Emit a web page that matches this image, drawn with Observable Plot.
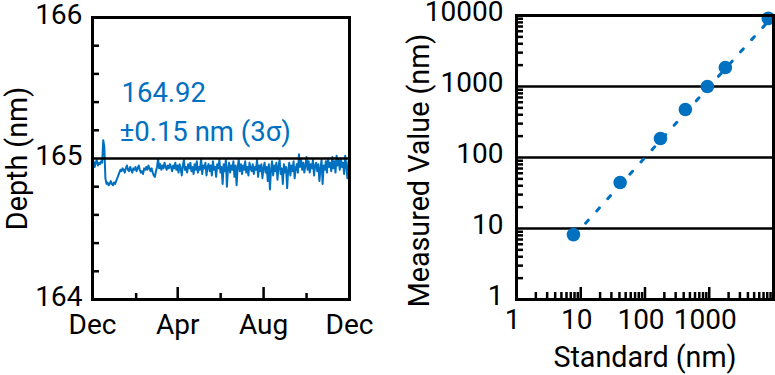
<!DOCTYPE html>
<html><head><meta charset="utf-8">
<script src="https://cdn.jsdelivr.net/npm/d3@7"></script>
<script src="https://cdn.jsdelivr.net/npm/@observablehq/plot@0.6"></script>
<style>
html,body{margin:0;padding:0;background:#fff;}
#wrap{display:flex;width:775px;height:375px;overflow:hidden;}
</style></head><body><div id="wrap"></div>
<script>
// ---- Left panel: depth over one year ----
const depthStart = "2020-12-01";
const depthEnd = "2021-12-01";
const depthValues = [
  164.96, 164.98, 164.94, 164.97, 164.99, 164.95, 164.97, 164.96, 164.98, 164.97,
  165.13, 165.08, 164.86, 164.82, 164.83, 164.81, 164.82, 164.84, 164.82, 164.81,
  164.83, 164.82, 164.84, 164.86, 164.88, 164.90, 164.92, 164.91, 164.93, 164.92,
  164.90, 164.93, 164.95, 164.92, 164.91, 164.94, 164.92, 164.90, 164.93, 164.92,
  164.94, 164.91, 164.93, 164.95, 164.92, 164.90, 164.91, 164.89, 164.93, 164.92,
  164.94, 164.92, 164.95, 164.93, 164.91, 164.93, 164.90, 164.88, 164.87, 164.91,
  164.94, 165.00, 164.93, 164.96, 164.92, 164.95, 164.93, 164.97, 164.94, 164.92,
  164.95, 164.93, 164.96, 164.94, 164.91, 164.95, 164.93, 164.97, 164.92, 164.95,
  164.90, 164.96, 164.93, 164.88, 164.95, 164.99, 164.92, 164.94, 164.90, 164.96,
  164.93, 164.97, 164.91, 164.94, 164.89, 164.96, 164.92, 164.98, 164.90, 164.94,
  164.92, 165.00, 164.89, 164.95, 164.93, 164.97, 164.88, 164.94, 164.96, 164.91,
  164.95, 164.88, 164.98, 164.92, 164.94, 164.87, 164.96, 164.93, 164.99, 164.90,
  164.94, 164.82, 164.96, 164.91, 164.99, 164.80, 164.93, 164.97, 164.90, 164.95,
  164.92, 164.98, 164.87, 164.95, 164.81, 164.94, 164.99, 164.91, 164.96, 164.89,
  164.95, 164.92, 164.98, 164.90, 164.94, 164.88, 164.97, 164.93, 164.91, 164.96,
  164.89, 164.94, 164.92, 164.99, 164.87, 164.95, 164.91, 164.96, 164.86, 164.93,
  164.97, 164.90, 164.94, 164.84, 164.96, 164.78, 164.92, 164.98, 164.88, 164.95,
  164.91, 164.97, 164.85, 164.94, 164.99, 164.89, 164.93, 164.82, 164.96, 164.90,
  164.94, 164.79, 164.92, 164.97, 164.88, 164.95, 164.91, 164.98, 164.86, 164.93,
  164.96, 164.90, 165.03, 164.94, 164.99, 164.92, 164.97, 164.90, 164.95, 165.01,
  164.92, 164.98, 164.90, 164.96, 164.93, 164.99, 164.88, 164.95, 164.97, 164.91,
  164.96, 164.84, 164.93, 164.99, 164.82, 164.95, 164.92, 164.98, 164.90, 165.00,
  164.94, 164.97, 164.91, 165.01, 164.93, 164.98, 164.90, 165.02, 164.95, 164.99,
  164.92, 165.00, 164.94, 164.97, 164.89, 165.02, 164.95, 164.86, 164.98, 164.93
];
const depthTickDates = ["2020-12-01", "2021-04-01", "2021-08-01", "2021-12-01"];
const depthTickLabels = ["Dec", "Apr", "Aug", "Dec"];
const depthMinorDates = ["2021-02-01", "2021-06-01", "2021-10-01"];
const depthMajorInnerDates = ["2021-04-01", "2021-08-01"];
const depthYTicks = [164, 165, 166];
const depthMinorY = [164.2, 164.4, 164.6, 164.8, 165.2, 165.4, 165.6, 165.8];
const depthRef = 165;
const meanLabel = "164.92";
const sigmaLabel = "±0.15 nm (3σ)";
const depthYLabel = "Depth (nm)";

// ---- Right panel: measured vs standard ----
const standardNm = [7.7, 41, 174, 425, 934, 1780, 8300];
const measuredNm = [8.2, 44.5, 185, 475, 1000, 1850, 9100];
const fitStandard = [8, 8300];
const fitMeasured = [8, 8300];
const logXLabels = [1, 10, 100, 1000];
const logYLabels = [1, 10, 100, 1000, 10000];
const logGrid = [10, 100, 1000];
const logMajorX = [10, 100, 1000];
const logMinor = [2,3,4,5,6,7,8,9,20,30,40,50,60,70,80,90,200,300,400,500,600,700,800,900,2000,3000,4000,5000,6000,7000,8000,9000];
const xLabel = "Standard (nm)";
const yLabel = "Measured Value (nm)";

const blue = "#0070c0";
const FT = 28;   // tick labels
const FA = 27.5; // annotation
const FL = 28.7; // axis titles
const font = "Roboto, sans-serif";

const t0 = +new Date(depthStart), t1 = +new Date(depthEnd);
const series = depthValues.map((v, i) => ({
  date: new Date(t0 + i * (t1 - t0) / (depthValues.length - 1)),
  value: v
}));

// Left panel geometry
const L = {w: 380, h: 375, ml: 92, mr: 31, mt: 17, mb: 76};
const Lpw = L.w - L.ml - L.mr, Lph = L.h - L.mt - L.mb;

const left = Plot.plot({
  width: L.w, height: L.h,
  marginLeft: L.ml, marginRight: L.mr, marginTop: L.mt, marginBottom: L.mb,
  style: {fontFamily: font, fontSize: FT + "px", color: "black", background: "white", overflow: "visible"},
  x: {type: "utc", domain: [new Date(depthStart), new Date(depthEnd)], axis: null},
  y: {domain: [164, 166]},
  marks: [
    Plot.line(series, {x: "date", y: "value", stroke: blue, strokeWidth: 2}),
    Plot.ruleY([depthRef], {stroke: "black", strokeWidth: 2.5}),
    Plot.tickY(depthMinorY, {y: d => d, insetRight: Lpw - 7, stroke: "black", strokeWidth: 2.5}),
    Plot.tickX(depthMinorDates.map(d => new Date(d)), {x: d => d, insetTop: Lph - 6, stroke: "black", strokeWidth: 2.5}),
    Plot.tickX(depthMajorInnerDates.map(d => new Date(d)), {x: d => d, insetTop: Lph - 12, stroke: "black", strokeWidth: 2.5}),
    Plot.frame({stroke: "black", strokeWidth: 3}),
    Plot.axisY({ticks: depthYTicks, tickFormat: d => String(d), tickSize: 0, tickPadding: 10, dy: -2, label: null, fontSize: FT}),
    Plot.text(depthTickDates, {x: d => new Date(d), text: (d, i) => depthTickLabels[i], frameAnchor: "bottom", lineAnchor: "top", dy: 15, fontSize: FT, fill: "black"}),
    Plot.text([meanLabel], {frameAnchor: "top-left", textAnchor: "start", lineAnchor: "middle", dx: 29, dy: 76, fill: blue, fontSize: FA}),
    Plot.text([sigmaLabel], {frameAnchor: "top-left", textAnchor: "start", lineAnchor: "middle", dx: 27, dy: 115, fill: blue, fontSize: FA}),
    Plot.text([depthYLabel], {frameAnchor: "left", rotate: -90, textAnchor: "middle", lineAnchor: "middle", dx: -75, fill: "black", fontSize: FL})
  ]
});

// Right panel geometry
const R = {w: 395, h: 375, ml: 136, mr: 2, mt: 15, mb: 76};
const Rpw = R.w - R.ml - R.mr, Rph = R.h - R.mt - R.mb;

const right = Plot.plot({
  width: R.w, height: R.h,
  marginLeft: R.ml, marginRight: R.mr, marginTop: R.mt, marginBottom: R.mb,
  style: {fontFamily: font, fontSize: FT + "px", color: "black", background: "white", overflow: "visible"},
  x: {type: "log", domain: [1, 10000]},
  y: {type: "log", domain: [1, 10000]},
  marks: [
    Plot.ruleY(logGrid, {y: d => d, stroke: "black", strokeWidth: 2.5}),
    Plot.tickY(logMinor, {y: d => d, insetRight: Rpw - 7, stroke: "black", strokeWidth: 2.5}),
    Plot.tickX(logMinor, {x: d => d, insetTop: Rph - 7, stroke: "black", strokeWidth: 2.5}),
    Plot.tickX(logMajorX, {x: d => d, insetTop: Rph - 12, stroke: "black", strokeWidth: 2.5}),
    Plot.line(fitStandard.map((s, i) => ({s, m: fitMeasured[i]})), {x: "s", y: "m", stroke: blue, strokeWidth: 3, strokeDasharray: "4,12.5"}),
    Plot.dot(standardNm.map((s, i) => ({s, m: measuredNm[i]})), {x: "s", y: "m", r: 6.8, fill: blue, stroke: null}),
    Plot.frame({stroke: "black", strokeWidth: 3}),
    Plot.axisY({ticks: logYLabels, tickFormat: d => String(d), tickSize: 0, tickPadding: 13, dy: -3, label: null, fontSize: FT}),
    Plot.axisX({ticks: logXLabels, tickFormat: d => String(d), tickSize: 0, tickPadding: 10, dx: -4, label: null, fontSize: FT}),
    Plot.text([xLabel], {frameAnchor: "bottom", textAnchor: "middle", lineAnchor: "middle", dy: 58, fill: "black", fontSize: FL}),
    Plot.text([yLabel], {frameAnchor: "left", rotate: -90, textAnchor: "middle", lineAnchor: "middle", dx: -97, dy: 13, fill: "black", fontSize: FL})
  ]
});

document.getElementById("wrap").append(left, right);
</script>
</body></html>
